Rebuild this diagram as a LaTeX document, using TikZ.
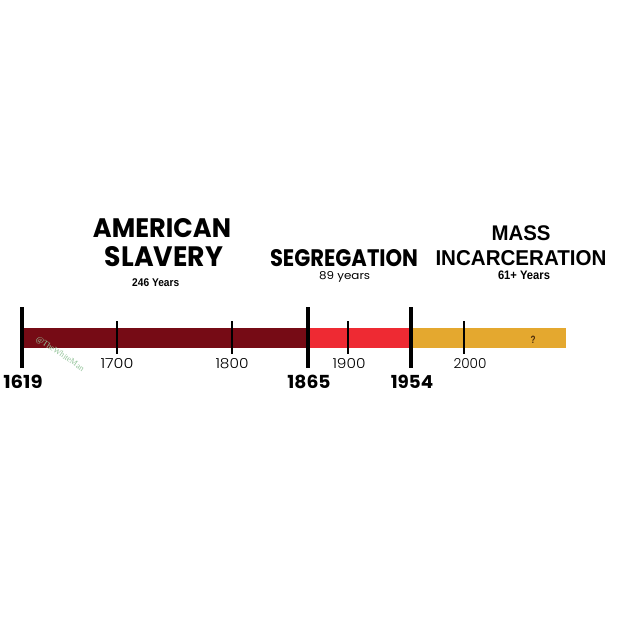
\documentclass[tikz,border=0pt]{standalone}
\usepackage{fontspec}
\usepackage{graphicx}
\setmainfont{Poppins}
\newfontfamily\thinfont{Poppins Light}
\newfontfamily\arialfont{Liberation Sans}
\newfontfamily\markfont{Liberation Serif}
\definecolor{slavered}{HTML}{760B15}
\definecolor{segred}{HTML}{EE2A33}
\definecolor{incorange}{HTML}{E4A82F}
\definecolor{qbrown}{HTML}{4A2A0A}
\definecolor{markgreen}{HTML}{94C49A}
% scale a text to a given width and height
\newcommand{\fitto}[3]{\resizebox{#1}{#2}{#3}}
\tikzset{
  label text/.style={inner sep=0pt, anchor=base, font=\bfseries},
  arial text/.style={label text, font=\arialfont\bfseries},
  bigtick/.style={line width=2pt},
  smalltick/.style={line width=1pt}
}

\begin{document}
\begin{tikzpicture}[x=0.5pt, y=-0.5pt]
  \fill[white] (0,0) rectangle (640,640);
  \useasboundingbox (0,0) rectangle (640,640);
  % the three eras
  \fill[slavered] (22,328) rectangle (308,348);
  \fill[segred] (308,328) rectangle (411,348);
  \fill[incorange] (411,328) rectangle (566,348);
  \node[arial text, text=qbrown] (qmark) at (533,343.3) {\fitto{2.5pt}{3.7pt}{?}};
  \node[inner sep=0pt, rotate=-34, text=markgreen, font=\markfont] (wmark) at (60,354)
    {\fitto{28pt}{!}{@TheWhiteMan}};
  % small ticks
  \foreach \x/\lx/\yr in {117/117/1700, 232/232/1800, 348/349/1900, 464/470/2000} {
    \draw[smalltick] (\x,321) -- (\x,354);
    \node[label text, font=\thinfont] (y\yr) at (\lx,368.3) {\fitto{16.5pt}{5pt}{\yr}};
  }
  % big ticks
  \foreach \x/\w/\yr in {22/19.7pt/1619, 308/21.6pt/1865, 411/21.2pt/1954} {
    \draw[bigtick] (\x,307) -- (\x,368);
    \node[label text] (b\yr) at (\x+1,388.3) {\fitto{\w}{6.7pt}{\yr}};
  }
  % titles
  \node[label text] (american) at (162,237.3) {\fitto{69pt}{9.5pt}{AMERICAN}};
  \node[label text] (slavery) at (164,266.7) {\fitto{59pt}{10pt}{SLAVERY}};
  \node[arial text] (slyears) at (155.7,286) {\fitto{23.5pt}{3.9pt}{246 Years}};
  \node[label text] (segregation) at (344,266.7) {\fitto{74pt}{8.5pt}{SEGREGATION}};
  \node[label text, font=\normalfont] (segyears) at (344.7,279.5) {\fitto{25.5pt}{4pt}{89 years}};
  \node[arial text] (mass) at (521,240.7) {\fitto{29.5pt}{7.4pt}{MASS}};
  \node[arial text] (incarceration) at (521,265.7) {\fitto{85.5pt}{7.5pt}{INCARCERATION}};
  \node[arial text] (incyears) at (524,279.3) {\fitto{26pt}{4.3pt}{61+ Years}};
\end{tikzpicture}
\end{document}
